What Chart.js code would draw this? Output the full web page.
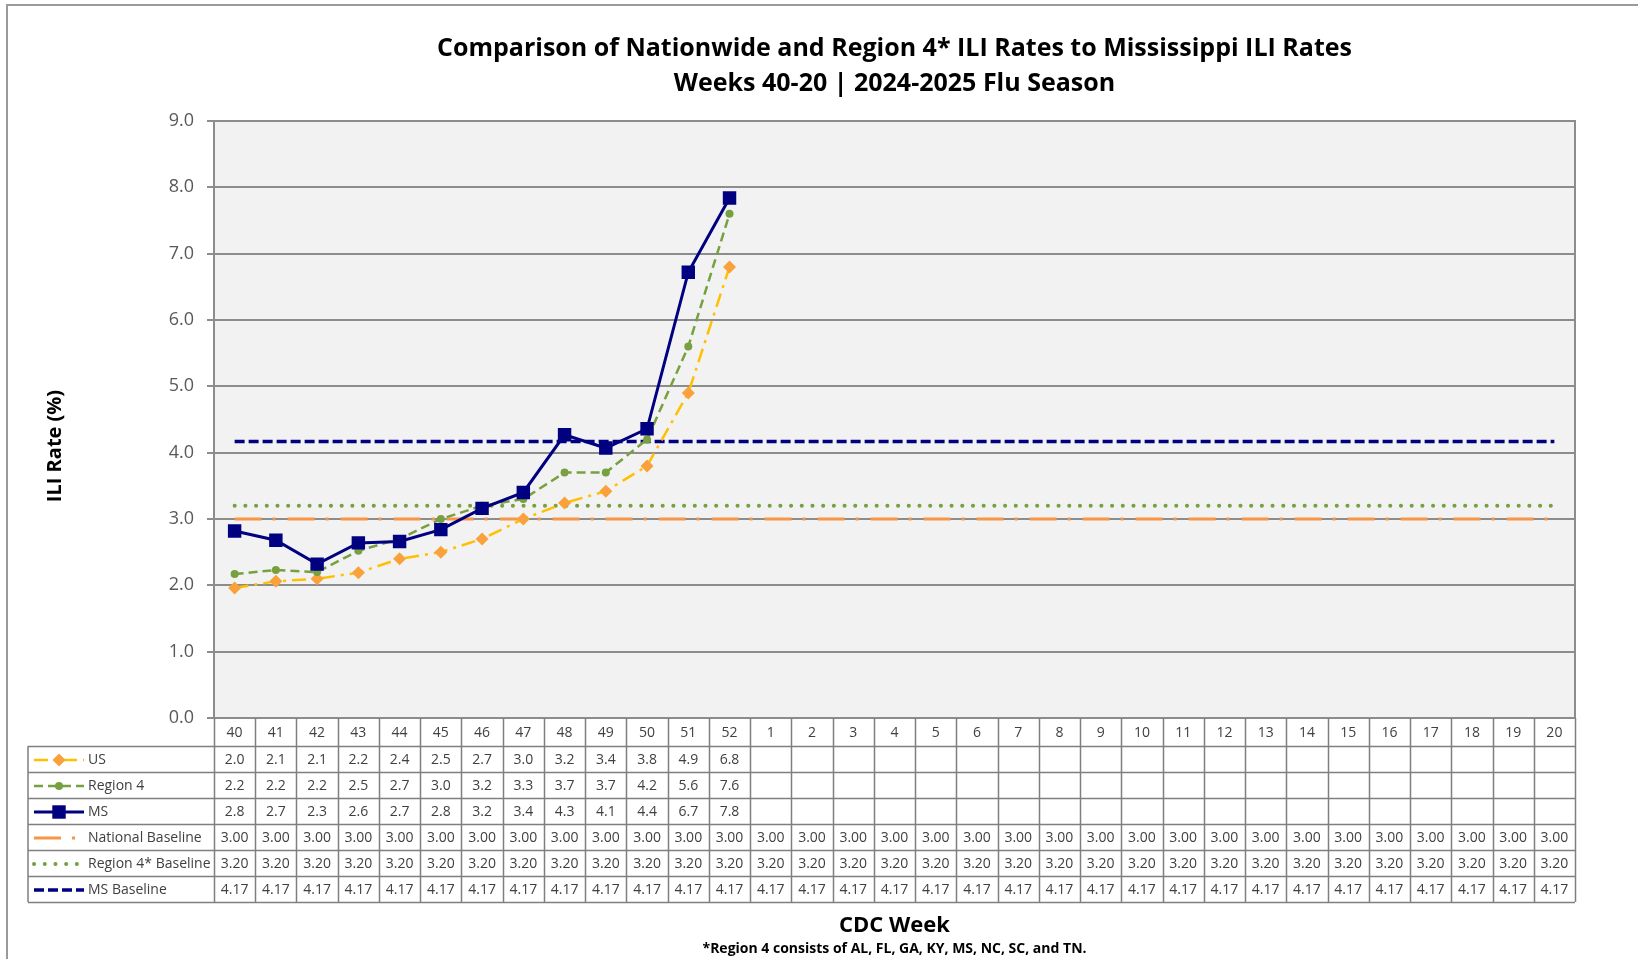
<!DOCTYPE html>
<html>
<head>
<meta charset="utf-8">
<script src="https://cdn.jsdelivr.net/npm/chart.js@4.4.1/dist/chart.umd.min.js"></script>
<style>
  html, body { margin: 0; padding: 0; background: #fff; }
  #wrap { width: 1638px; height: 959px; }
</style>
</head>
<body>
<div id="wrap"><canvas id="ili" width="1638" height="959"></canvas></div>
<script>
// CDC weeks 40-52, 1-20
const weeks = ['40', '41', '42', '43', '44', '45', '46', '47', '48', '49', '50', '51', '52',
  '1', '2', '3', '4', '5', '6', '7', '8', '9', '10', '11', '12', '13', '14', '15', '16', '17', '18', '19', '20'];

const usRate = [1.96, 2.06, 2.1, 2.19, 2.4, 2.5, 2.7, 3.0, 3.24, 3.42, 3.8, 4.9, 6.8];
const region4Rate = [2.17, 2.23, 2.2, 2.52, 2.7, 3.0, 3.2, 3.3, 3.7, 3.7, 4.2, 5.6, 7.6];
const msRate = [2.82, 2.68, 2.32, 2.64, 2.66, 2.84, 3.16, 3.4, 4.27, 4.07, 4.36, 6.72, 7.84];

const nationalBaseline = [3.00, 3.00, 3.00, 3.00, 3.00, 3.00, 3.00, 3.00, 3.00, 3.00, 3.00, 3.00, 3.00,
  3.00, 3.00, 3.00, 3.00, 3.00, 3.00, 3.00, 3.00, 3.00, 3.00, 3.00, 3.00, 3.00, 3.00, 3.00, 3.00, 3.00, 3.00, 3.00, 3.00];
const region4Baseline = [3.20, 3.20, 3.20, 3.20, 3.20, 3.20, 3.20, 3.20, 3.20, 3.20, 3.20, 3.20, 3.20,
  3.20, 3.20, 3.20, 3.20, 3.20, 3.20, 3.20, 3.20, 3.20, 3.20, 3.20, 3.20, 3.20, 3.20, 3.20, 3.20, 3.20, 3.20, 3.20, 3.20];
const msBaseline = [4.17, 4.17, 4.17, 4.17, 4.17, 4.17, 4.17, 4.17, 4.17, 4.17, 4.17, 4.17, 4.17,
  4.17, 4.17, 4.17, 4.17, 4.17, 4.17, 4.17, 4.17, 4.17, 4.17, 4.17, 4.17, 4.17, 4.17, 4.17, 4.17, 4.17, 4.17, 4.17, 4.17];

const yTicks = [0, 1, 2, 3, 4, 5, 6, 7, 8, 9];

const FONT = '"Open Sans", "Noto Sans", sans-serif';

// draw a legend marker the same way as the points
function drawMarker(ctx, ds, x, y) {
  const r = ds.pointRadius;
  if (!r) return;
  ctx.save();
  ctx.setLineDash([]);
  ctx.fillStyle = ds.pointBackgroundColor;
  ctx.beginPath();
  if (ds.pointStyle === 'rect') {
    const s = Math.SQRT1_2 * r;
    ctx.rect(x - s, y - s, 2 * s, 2 * s);
  } else if (ds.pointStyle === 'rectRot') {
    ctx.moveTo(x - r, y); ctx.lineTo(x, y - r); ctx.lineTo(x + r, y); ctx.lineTo(x, y + r); ctx.closePath();
  } else {
    ctx.arc(x, y, r, 0, Math.PI * 2);
  }
  ctx.fill();
  ctx.restore();
}

const extras = {
  id: 'extras',
  beforeDraw(chart) {
    const { ctx, chartArea: a } = chart;
    ctx.save();
    ctx.fillStyle = '#fff';
    ctx.fillRect(0, 0, chart.width, chart.height);
    ctx.fillStyle = '#f2f2f2';
    ctx.fillRect(a.left, a.top, a.right - a.left, a.bottom - a.top);
    ctx.strokeStyle = '#9a9a9a';
    ctx.lineWidth = 2;
    ctx.strokeRect(7, 5, chart.width + 20, chart.height + 20);
    ctx.restore();
  },
  afterDraw(chart) {
    const { ctx, chartArea: a } = chart;
    const xs = chart.scales.x;
    const mid = (a.left + a.right) / 2;
    ctx.save();

    // plot frame
    ctx.strokeStyle = '#8c8c8c';
    ctx.lineWidth = 2;
    ctx.strokeRect(a.left, a.top, a.right - a.left, a.bottom - a.top);

    // titles
    ctx.fillStyle = '#000';
    ctx.textAlign = 'center';
    ctx.textBaseline = 'middle';
    ctx.font = 'bold 25px ' + FONT;
    ctx.fillText('Comparison of Nationwide and Region 4* ILI Rates to Mississippi ILI Rates', mid, 49);
    ctx.fillText('Weeks 40-20 | 2024-2025 Flu Season', mid, 84);

    ctx.font = 'bold 22px ' + FONT;
    ctx.fillText('CDC Week', mid, 926);
    ctx.font = 'bold 14px ' + FONT;
    ctx.fillText('*Region 4 consists of AL, FL, GA, KY, MS, NC, SC, and TN.', mid, 949);

    ctx.save();
    ctx.translate(55, 446);
    ctx.rotate(-Math.PI / 2);
    ctx.font = 'bold 20px ' + FONT;
    ctx.fillText('ILI Rate (%)', 0, 0);
    ctx.restore();

    // data table
    const headH = 28, rowH = 26, tableL = 28;
    const top = a.bottom;
    const colW = (a.right - a.left) / weeks.length;
    const ds = chart.data.datasets;
    const rows = [
      { name: 'US', vals: usRate, dec: 1, ds: ds[0] },
      { name: 'Region 4', vals: region4Rate, dec: 1, ds: ds[1] },
      { name: 'MS', vals: msRate, dec: 1, ds: ds[2] },
      { name: 'National Baseline', vals: nationalBaseline, dec: 2, ds: ds[3] },
      { name: 'Region 4* Baseline', vals: region4Baseline, dec: 2, ds: ds[4] },
      { name: 'MS Baseline', vals: msBaseline, dec: 2, ds: ds[5] }
    ];
    const bottom = top + headH + rows.length * rowH;

    ctx.strokeStyle = '#7f7f7f';
    ctx.lineWidth = 1.5;
    ctx.beginPath();
    for (let i = 0; i <= weeks.length; i++) {
      const x = Math.round(a.left + i * colW) + 0.5;
      ctx.moveTo(x, top); ctx.lineTo(x, bottom);
    }
    ctx.moveTo(tableL, top + headH); ctx.lineTo(tableL, bottom);
    for (let r = 0; r <= rows.length; r++) {
      const y = top + headH + r * rowH + 0.5;
      ctx.moveTo(tableL, y); ctx.lineTo(a.right, y);
    }
    ctx.stroke();

    ctx.fillStyle = '#404040';
    ctx.font = '14px ' + FONT;
    ctx.textAlign = 'center';
    weeks.forEach((w, i) => {
      ctx.fillText(w, xs.getPixelForValue(i), top + headH / 2 + 1);
    });
    rows.forEach((row, r) => {
      const cy = top + headH + r * rowH + rowH / 2 + 1;
      ctx.textAlign = 'center';
      ctx.fillStyle = '#404040';
      row.vals.forEach((v, i) => {
        if (v == null) return;
        ctx.fillText(v.toFixed(row.dec), xs.getPixelForValue(i), cy);
      });
      // legend key
      const d = row.ds;
      ctx.save();
      ctx.strokeStyle = d.borderColor;
      ctx.lineWidth = d.borderWidth;
      ctx.lineCap = d.borderCapStyle || 'butt';
      ctx.setLineDash(d.borderDash || []);
      ctx.beginPath();
      ctx.moveTo(34, cy); ctx.lineTo(84, cy);
      ctx.stroke();
      drawMarker(ctx, d, 59, cy);
      ctx.restore();
      ctx.textAlign = 'left';
      ctx.fillStyle = '#404040';
      ctx.fillText(row.name, 88, cy);
    });

    ctx.restore();
  }
};

new Chart(document.getElementById('ili'), {
  type: 'line',
  data: {
    labels: weeks,
    datasets: [
      {
        label: 'US', data: usRate, order: 2,
        borderColor: '#ffc000', borderWidth: 2.5, borderDash: [14, 6, 3, 6],
        pointStyle: 'rectRot', pointRadius: 6.5, pointBackgroundColor: '#f9a13b', pointBorderColor: '#f9a13b', pointBorderWidth: 0
      },
      {
        label: 'Region 4', data: region4Rate, order: 1,
        borderColor: '#77a040', borderWidth: 2.5, borderDash: [9, 5],
        pointStyle: 'circle', pointRadius: 4, pointBackgroundColor: '#77a040', pointBorderColor: '#77a040', pointBorderWidth: 0
      },
      {
        label: 'MS', data: msRate, order: 0,
        borderColor: '#000080', borderWidth: 3,
        pointStyle: 'rect', pointRadius: 9.5, pointBackgroundColor: '#000080', pointBorderColor: '#000080', pointBorderWidth: 0
      },
      {
        label: 'National Baseline', data: nationalBaseline, order: 5,
        borderColor: '#f79646', borderWidth: 3, borderDash: [27, 11, 3, 12], pointRadius: 0
      },
      {
        label: 'Region 4* Baseline', data: region4Baseline, order: 4,
        borderColor: '#77a040', borderWidth: 4, borderDash: [0.1, 10.6], borderCapStyle: 'round', pointRadius: 0
      },
      {
        label: 'MS Baseline', data: msBaseline, order: 3,
        borderColor: '#000080', borderWidth: 3.5, borderDash: [10, 4], pointRadius: 0
      }
    ]
  },
  options: {
    responsive: false,
    animation: false,
    layout: { padding: { left: 0, right: 63, top: 121, bottom: 241 } },
    plugins: {
      legend: { display: false },
      title: { display: false },
      tooltip: { enabled: false }
    },
    scales: {
      x: { display: false, offset: true },
      y: {
        min: 0, max: 9,
        afterFit: s => { s.width = 214; },
        afterBuildTicks: s => { s.ticks = yTicks.map(v => ({ value: v })); },
        ticks: {
          color: '#595959', padding: 13,
          font: { family: FONT, size: 18 },
          callback: v => v.toFixed(1)
        },
        grid: { color: '#8c8c8c', lineWidth: 2, tickLength: 7 },
        border: { color: '#7f7f7f', width: 2 }
      }
    }
  },
  plugins: [extras]
});
</script>
</body>
</html>
